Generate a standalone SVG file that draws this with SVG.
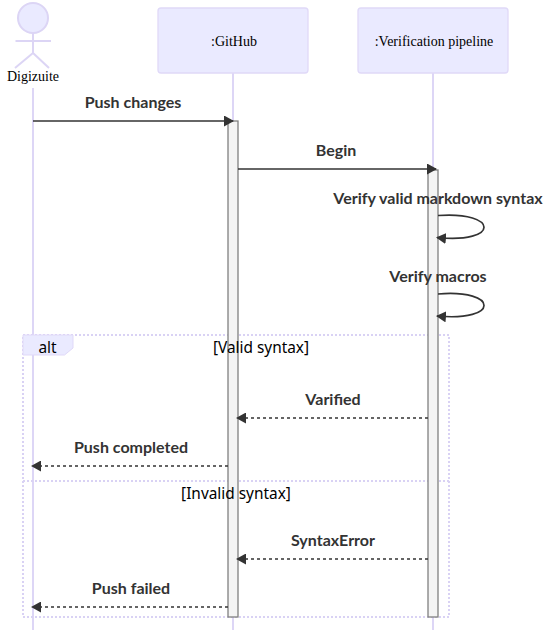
<svg xmlns="http://www.w3.org/2000/svg" width="548" height="630" viewBox="0 0 548 630">
<style>
.life{stroke:#ddd6f6;stroke-width:2;fill:none}
.box{fill:#eaeaff;stroke:#e0d9f8;stroke-width:1.3}
.actor{fill:none;stroke:#dcd5f5;stroke-width:2}
.name{font-family:"Liberation Serif",serif;font-size:14px;fill:#000;text-anchor:middle}
.msg{font-family:"Lato",sans-serif;font-size:16px;font-weight:700;fill:#333;text-anchor:middle}
.note{font-family:"Noto Sans",sans-serif;font-size:15.400px;fill:#000;text-anchor:middle}
.act{fill:#f4f4f4;stroke:#808080;stroke-width:1.3}
.line{fill:none;stroke:#333;stroke-width:1.7}
.dash{stroke-dasharray:3 3}
.frame{fill:none;stroke:#d9d2f4;stroke-width:2;stroke-dasharray:2 2}
</style>
<defs>
<marker id="arrow" markerUnits="userSpaceOnUse" viewBox="0 0 10 11" refX="9" refY="5.500" markerWidth="10" markerHeight="11" orient="auto"><path d="M0 0L10 5.500L0 11Z" fill="#333"/></marker>
</defs>
<g id="lifelines">
<line class="life" x1="33" y1="88" x2="33" y2="630"/>
<line class="life" x1="233" y1="73" x2="233" y2="630"/>
<line class="life" x1="433" y1="73" x2="433" y2="630"/>
</g>
<g id="actor-digizuite">
<circle cx="33" cy="18" r="15" fill="#eaeaff" stroke="#dcd5f5" stroke-width="2"/>
<path class="actor" d="M33 33V53M15.500 41H51M33 53L15 68M33 53L49 68"/>
<text class="name" x="33" y="81">Digizuite</text>
</g>
<g id="node-github">
<rect class="box" x="158" y="8" width="150" height="65" rx="3"/>
<text class="name" x="234" y="46">:GitHub</text>
</g>
<g id="node-pipeline">
<rect class="box" x="358" y="8" width="150" height="65" rx="3"/>
<text class="name" x="434" y="46">:Verification pipeline</text>
</g>
<g id="alt-frame">
<rect class="frame" x="23" y="335" width="426" height="282"/>
<line class="frame" x1="23" y1="481" x2="449" y2="481"/>
<path d="M23 335H73V348L64.500 355H23Z" fill="#eaeaff" stroke="#e0d9f8"/>
</g>
<g id="activations">
<rect class="act" x="228" y="121" width="10" height="496"/>
<rect class="act" x="428" y="170" width="10" height="447"/>
</g>
<g id="alt-labels">
<text class="note" x="47.500" y="353">alt</text>
<text class="note" x="261" y="353">[Valid syntax]</text>
<text class="note" x="236" y="499">[Invalid syntax]</text>
</g>
<g id="connectors">
<line class="line" x1="33" y1="121" x2="233" y2="121" marker-end="url(#arrow)"/>
<line class="line" x1="238" y1="169" x2="436" y2="169" marker-end="url(#arrow)"/>
<path class="line" d="M438 215.500C499 211 500 244 437 237.500" marker-end="url(#arrow)"/>
<path class="line" d="M438 294C499 289 500 322 437 316" marker-end="url(#arrow)"/>
<line class="line dash" x1="428" y1="418" x2="237" y2="418" marker-end="url(#arrow)"/>
<line class="line dash" x1="228" y1="466" x2="32" y2="466" marker-end="url(#arrow)"/>
<line class="line dash" x1="428" y1="559" x2="237" y2="559" marker-end="url(#arrow)"/>
<line class="line dash" x1="228" y1="607" x2="32" y2="607" marker-end="url(#arrow)"/>
</g>
<g id="labels">
<text class="msg" x="133" y="108">Push changes</text>
<text class="msg" x="336" y="156">Begin</text>
<text class="msg" x="438" y="204">Verify valid markdown syntax</text>
<text class="msg" x="438" y="282">Verify macros</text>
<text class="msg" x="333" y="405">Varified</text>
<text class="msg" x="131" y="453">Push completed</text>
<text class="msg" x="333" y="546">SyntaxError</text>
<text class="msg" x="131" y="594">Push failed</text>
</g>
</svg>
